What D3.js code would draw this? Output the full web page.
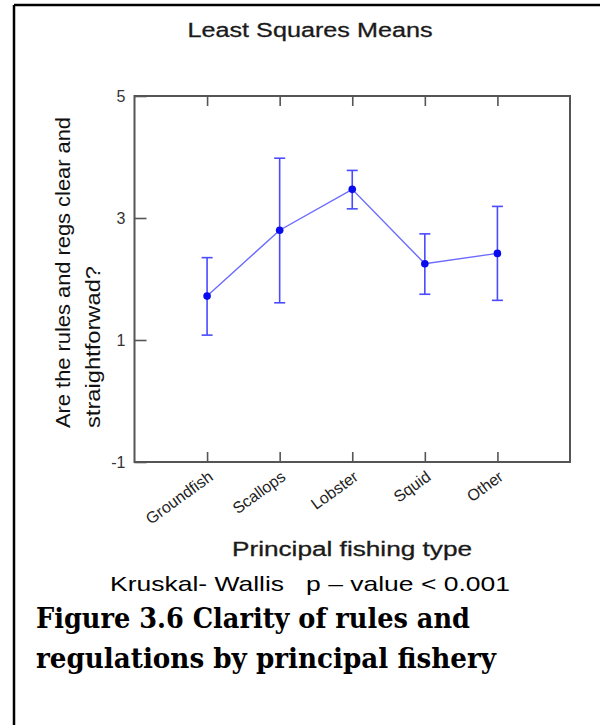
<!DOCTYPE html>
<html>
<head>
<meta charset="utf-8">
<script src="https://cdn.jsdelivr.net/npm/d3@7"></script>
<style>
  html, body { margin: 0; padding: 0; background: #fff; }
  svg { display: block; }
</style>
</head>
<body>
<script>
// Least squares means of "Are the rules and regs clear and straightforward?" by fishery
const categories = ["Groundfish", "Scallops", "Lobster", "Squid", "Other"];
const means      = [1.72, 2.80, 3.47, 2.25, 2.42];
const upperCI    = [2.35, 3.98, 3.78, 2.74, 3.19];
const lowerCI    = [1.08, 1.61, 3.15, 1.75, 1.65];
const yTicks     = [5, 3, 1, -1];

const W = 600, H = 725;
const plot = { left: 134.5, right: 570, top: 96, bottom: 462 };

const svg = d3.select("body").append("svg")
  .attr("width", W).attr("height", H);

// page frame (top and left rules)
svg.append("line").attr("x1", 14).attr("x2", W).attr("y1", 5).attr("y2", 5)
  .attr("stroke", "#000").attr("stroke-width", 2.5);
svg.append("line").attr("x1", 14).attr("x2", 14).attr("y1", 5).attr("y2", H)
  .attr("stroke", "#000").attr("stroke-width", 2.5);

const x = d3.scalePoint().domain(categories)
  .range([plot.left, plot.right]).padding(1);
const y = d3.scaleLinear().domain([-1, 5]).range([plot.bottom, plot.top]);

const sans = "'Liberation Sans', Arial, sans-serif";
const axisColor = "#555";

// helper: text fitted to a given width
function fitText(sel, len) {
  return sel.attr("textLength", len).attr("lengthAdjust", "spacingAndGlyphs");
}

// title
fitText(svg.append("text")
  .attr("x", 310).attr("y", 37)
  .attr("text-anchor", "middle")
  .attr("font-family", sans).attr("font-size", 20)
  .attr("stroke", "#1a1a1a").attr("stroke-width", 0.3)
  .attr("fill", "#1a1a1a")
  .text("Least Squares Means"), 245);

// plot frame
svg.append("rect")
  .attr("x", plot.left).attr("y", plot.top)
  .attr("width", plot.right - plot.left).attr("height", plot.bottom - plot.top)
  .attr("fill", "none").attr("stroke", axisColor).attr("stroke-width", 2);

// inward y ticks + labels
const yAxis = d3.axisLeft(y).tickValues(yTicks).tickFormat(d3.format("d"))
  .tickSizeInner(-12).tickSizeOuter(0);
const gy = svg.append("g").attr("transform", `translate(${plot.left},0)`).call(yAxis);
gy.select(".domain").remove();
gy.selectAll(".tick line").attr("stroke", axisColor).attr("stroke-width", 1.6);
gy.selectAll(".tick text").attr("font-family", sans).attr("font-size", 16)
  .attr("fill", "#333").attr("x", -9).text(d => d < 0 ? "-" + Math.abs(d) : d);

// inward x ticks on bottom and top
const xb = d3.axisBottom(x).tickSizeInner(-10).tickSizeOuter(0).tickFormat("");
const gxb = svg.append("g").attr("transform", `translate(0,${plot.bottom})`).call(xb);
gxb.select(".domain").remove();
gxb.selectAll(".tick line").attr("stroke", axisColor).attr("stroke-width", 1.6);

const xt = d3.axisTop(x).tickSizeInner(-10).tickSizeOuter(0).tickFormat("");
const gxt = svg.append("g").attr("transform", `translate(0,${plot.top})`).call(xt);
gxt.select(".domain").remove();
gxt.selectAll(".tick line").attr("stroke", axisColor).attr("stroke-width", 1.6);

// rotated category labels
svg.append("g").selectAll("text").data(categories).join("text")
  .attr("transform", d => `translate(${x(d) + 7},${plot.bottom + 17}) rotate(-36)`)
  .attr("text-anchor", "end")
  .attr("font-family", sans).attr("font-size", 16)
  .attr("fill", "#222")
  .text(d => d);

// y axis title (two lines)
const yl = svg.append("g").attr("font-family", sans).attr("font-size", 20).attr("fill", "#111");
fitText(yl.append("text").attr("transform", "translate(70,428) rotate(-90)")
  .text("Are the rules and regs clear and"), 311);
fitText(yl.append("text").attr("transform", "translate(100,428) rotate(-90)")
  .text("straightforwad?"), 162);

// series
const rows = categories.map((c, i) => ({ c, m: means[i], hi: upperCI[i], lo: lowerCI[i] }));

svg.append("path").datum(rows)
  .attr("fill", "none").attr("stroke", "#6b6bff").attr("stroke-width", 1.4)
  .attr("d", d3.line().x(d => x(d.c)).y(d => y(d.m)));

const eb = svg.append("g").attr("stroke", "#4a4aff").attr("stroke-width", 1.6);
eb.selectAll("line.v").data(rows).join("line").attr("class", "v")
  .attr("x1", d => x(d.c)).attr("x2", d => x(d.c))
  .attr("y1", d => y(d.hi)).attr("y2", d => y(d.lo));
eb.selectAll("line.t").data(rows).join("line").attr("class", "t")
  .attr("x1", d => x(d.c) - 5.5).attr("x2", d => x(d.c) + 5.5)
  .attr("y1", d => y(d.hi)).attr("y2", d => y(d.hi));
eb.selectAll("line.b").data(rows).join("line").attr("class", "b")
  .attr("x1", d => x(d.c) - 5.5).attr("x2", d => x(d.c) + 5.5)
  .attr("y1", d => y(d.lo)).attr("y2", d => y(d.lo));

svg.append("g").selectAll("circle").data(rows).join("circle")
  .attr("cx", d => x(d.c)).attr("cy", d => y(d.m)).attr("r", 3.8)
  .attr("fill", "#0a0aee");

// x axis title and notes
fitText(svg.append("text")
  .attr("x", 352).attr("y", 556).attr("text-anchor", "middle")
  .attr("font-family", sans).attr("font-size", 20).attr("fill", "#1a1a1a")
  .attr("stroke", "#1a1a1a").attr("stroke-width", 0.3)
  .text("Principal fishing type"), 240);

fitText(svg.append("text")
  .attr("x", 110).attr("y", 591)
  .attr("font-family", sans).attr("font-size", 21).attr("fill", "#000")
  .attr("xml:space", "preserve")
  .text("Kruskal- Wallis   p \u2013 value < 0.001"), 400);

const serif = "'DejaVu Serif', 'Liberation Serif', serif";
fitText(svg.append("text")
  .attr("x", 36).attr("y", 628)
  .attr("font-family", serif).attr("font-weight", "bold").attr("font-size", 27).attr("fill", "#000")
  .text("Figure 3.6 Clarity of rules and"), 434);
fitText(svg.append("text")
  .attr("x", 36).attr("y", 668)
  .attr("font-family", serif).attr("font-weight", "bold").attr("font-size", 27).attr("fill", "#000")
  .text("regulations by principal fishery"), 460);
</script>
</body>
</html>
